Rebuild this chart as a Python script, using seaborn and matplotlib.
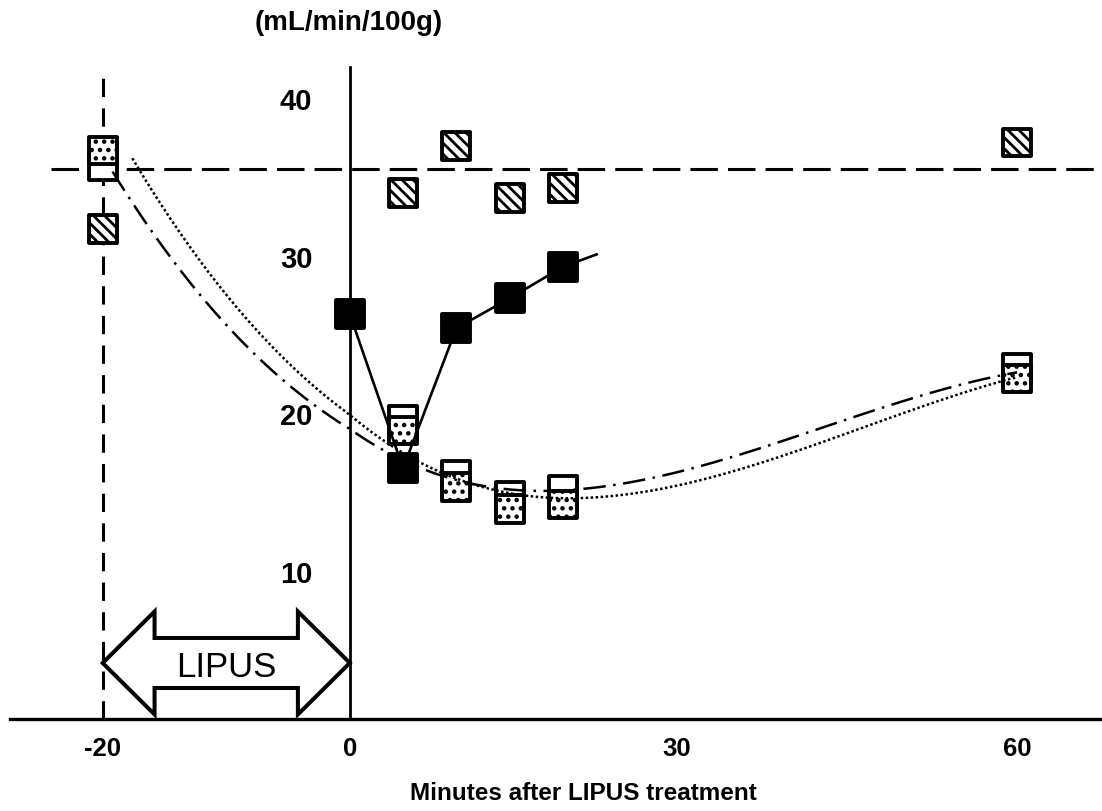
import numpy as np
import pandas as pd
import matplotlib
matplotlib.use("Agg")
import matplotlib.pyplot as plt
import seaborn as sns
from matplotlib.patches import Polygon
from matplotlib.markers import MarkerStyle

# ---------------- data ----------------
hatched_x = [-20, 5, 10, 15, 20, 60]
hatched_y = [31.7, 34.0, 37.0, 33.7, 34.3, 37.2]

filled_x = [0, 5, 10, 15, 20]
filled_y = [26.3, 16.5, 25.4, 27.3, 29.3]
filled_tail_x = [23]
filled_tail_y = [30.1]

open_x = [-20, 5, 10, 15, 20, 60]
open_y = [35.7, 19.6, 16.1, 14.75, 15.1, 22.9]

dotted_x = [-20, 5, 10, 15, 20, 60]
dotted_y = [36.7, 18.9, 15.3, 13.9, 14.2, 22.2]

# trend curves
dashdot_trend_x = [-19.2, 0, 20, 60]
dashdot_trend_y = [35.35, 19.0, 15.1, 22.6]
dotted_trend_x = [-17.6, 0, 20, 60]
dotted_trend_y = [36.2, 19.9, 14.6, 22.3]

baseline_y = 35.5
lipus_start, lipus_end = -20, 0
x_ticks = [-20, 0, 30, 60]
x_tick_labels = ["-20", "0", "30", "60"]
y_ticks = [10, 20, 30, 40]
y_tick_labels = ["10", "20", "30", "40"]
x_label = "Minutes after LIPUS treatment"
y_label = "(mL/min/100g)"
lipus_label = "LIPUS"

# ---------------- style ----------------
sns.set_style("white")
plt.rcParams["font.family"] = ["Liberation Sans", "DejaVu Sans"]
plt.rcParams["hatch.linewidth"] = 2.0
plt.rcParams["hatch.color"] = "black"
for k in ["text.color", "axes.labelcolor", "xtick.color", "ytick.color"]:
    plt.rcParams[k] = "black"

W, H = 1102, 812
fig = plt.figure(figsize=(W / 100, H / 100), dpi=100)
ax = fig.add_axes([10 / W, (H - 720) / H, 1090 / W, 652 / H])

# non-uniform time axis (the original stretches the pre-treatment period)
scale_x = [-30, -20, 0, 20, 70]
scale_px = [-20.5, 103, 350, 563, 1130.5]


def fwd(x):
    return np.interp(x, scale_x, scale_px)


def inv(p):
    return np.interp(p, scale_px, scale_x)


ax.set_xscale("function", functions=(fwd, inv))

sq = MarkerStyle("s", joinstyle="round")
msize = 400
medge = 2.8

# reference lines
ax.axhline(baseline_y, xmin=0.038, xmax=1, color="black", lw=2.2,
           linestyle=(0, (9, 3.3)), zorder=2)
ax.axvline(lipus_start, color="black", lw=2.2, linestyle=(0, (6, 3.7)), zorder=2)

# open & dotted squares
sns.scatterplot(x=open_x, y=open_y, marker=sq, s=msize, color="white",
                edgecolor="black", linewidth=medge, zorder=3, ax=ax)
sns.scatterplot(x=dotted_x, y=dotted_y, marker=sq, s=msize, color="white",
                edgecolor="black", linewidth=medge, hatch="..", zorder=3.1, ax=ax)

# trend lines
sns.regplot(x=np.array(dashdot_trend_x, float), y=np.array(dashdot_trend_y, float),
            order=3, ci=None, scatter=False, truncate=True, ax=ax,
            line_kws=dict(color="black", lw=1.8, linestyle=(0, (9, 3, 1, 3)), zorder=3.5))
sns.regplot(x=np.array(dotted_trend_x, float), y=np.array(dotted_trend_y, float),
            order=3, ci=None, scatter=False, truncate=True, ax=ax,
            line_kws=dict(color="black", lw=1.8, linestyle=(0, (1, 1)), zorder=3.5))

# hatched squares
sns.scatterplot(x=hatched_x, y=hatched_y, marker=sq, s=msize, color="white",
                edgecolor="black", linewidth=medge, hatch="\\\\\\", zorder=4, ax=ax)

# filled squares with line
sns.lineplot(x=filled_x + filled_tail_x, y=filled_y + filled_tail_y, color="black",
             lw=1.9, estimator=None, zorder=5, ax=ax)
sns.scatterplot(x=filled_x, y=filled_y, marker=sq, s=msize, color="black",
                edgecolor="black", linewidth=medge, zorder=5.5, ax=ax)

# LIPUS double arrow
cy, hh, sh, hl = 4.13, 3.27, 1.59, 4.2
verts = [(lipus_start, cy), (lipus_start + hl, cy + hh), (lipus_start + hl, cy + sh),
         (lipus_end - hl, cy + sh), (lipus_end - hl, cy + hh), (lipus_end, cy),
         (lipus_end - hl, cy - hh), (lipus_end - hl, cy - sh),
         (lipus_start + hl, cy - sh), (lipus_start + hl, cy - hh)]
ax.add_patch(Polygon(verts, closed=True, facecolor="white", edgecolor="black",
                     lw=2.9, joinstyle="miter", zorder=6))
ax.text((lipus_start + lipus_end) / 2, cy, lipus_label, ha="center",
        va="center_baseline", fontsize=25, color="black", zorder=7)

# axes
ax.set_xlim(-27.5, 67.3)
ax.set_ylim(0.57, 42.0)
for s in ["top", "right"]:
    ax.spines[s].set_visible(False)
ax.spines["left"].set_position(("data", 0))
ax.spines["left"].set_linewidth(2.0)
ax.spines["left"].set_color("black")
ax.spines["bottom"].set_linewidth(2.4)
ax.spines["bottom"].set_color("black")

ax.set_xticks(x_ticks)
ax.set_xticklabels(x_tick_labels, fontsize=18.5, fontweight="bold")
ax.set_yticks(y_ticks)
ax.set_yticklabels(y_tick_labels, fontsize=21, fontweight="bold")
ax.xaxis.set_minor_locator(matplotlib.ticker.NullLocator())
ax.tick_params(axis="x", length=0, pad=12, colors="black")
ax.tick_params(axis="y", length=0, pad=27, colors="black")

ax.set_xlabel(x_label, fontsize=17.5, fontweight="bold")
ax.xaxis.set_label_coords((583 - 10) / 1090, (720 - 794) / 652)
ax.xaxis.label.set_va("center")
ax.set_ylabel(y_label, rotation=0, fontsize=20, fontweight="bold")
ax.yaxis.label.set_ha("center")
ax.yaxis.label.set_va("center")
ax.yaxis.set_label_coords((349 - 10) / 1090, (720 - 23) / 652)

fig.savefig("out.png", dpi=100)
